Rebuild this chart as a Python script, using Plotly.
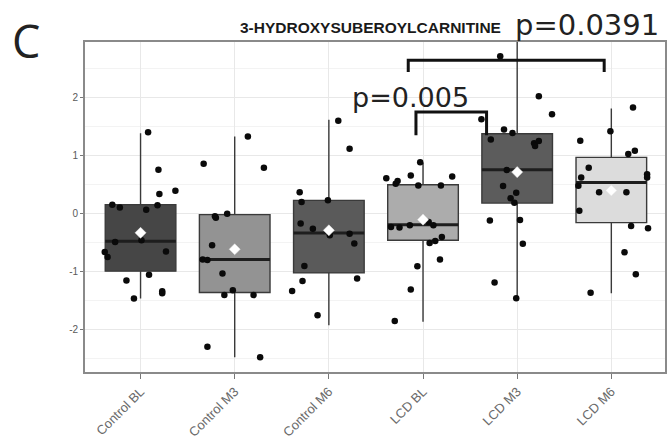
import plotly.graph_objects as go

# Groups shown on the x axis
groups = ["Control BL", "Control M3", "Control M6", "LCD BL", "LCD M3", "LCD M6"]
box_fill = ["#464646", "#939393", "#5a5a5a", "#acacac", "#5c5c5c", "#dcdcdc"]

# Summary statistics per group (scaled abundance)
q1 = [-0.99, -1.357, -1.02, -0.459, 0.182, -0.155]
median = [-0.476, -0.79, -0.333, -0.19, 0.756, 0.538]
q3 = [0.155, -0.017, 0.229, 0.498, 1.375, 0.968]
lower_whisker = [-1.46, -2.47, -1.92, -1.862, -1.455, -1.37]
upper_whisker = [1.385, 1.33, 1.615, 0.876, 3.2, 1.81]
group_mean = [-0.33, -0.613, -0.287, -0.103, 0.715, 0.40]

# Individual subjects: values and horizontal jitter per group
ctrl_bl_vals = [1.40, 0.755, 0.34, 0.395, 0.155, 0.108, 0.069, 0.143, -0.49, -0.46,
                -0.66, -0.745, -0.65, -1.05, -1.15, -1.335, -1.37, -1.46]
ctrl_bl_jit = [0.08, 0.19, 0.20, 0.37, -0.30, -0.22, 0.06, 0.18, -0.27, 0.01,
               -0.38, -0.35, 0.27, 0.09, -0.15, 0.23, 0.23, -0.07]

ctrl_m3_vals = [1.33, 0.86, 0.79, -0.046, -0.07, 0.0, -0.545, -0.79, -0.80, -1.03,
                -1.32, -1.40, -1.40, -2.29, -2.47]
ctrl_m3_jit = [0.14, -0.33, 0.31, -0.21, -0.20, -0.08, -0.24, -0.34, -0.29, -0.13,
               -0.02, -0.11, 0.20, -0.29, 0.27]

ctrl_m6_vals = [1.60, 1.117, 0.37, 0.20, 0.229, -0.17, -0.258, -0.37, -0.344, -0.515,
                -0.90, -1.16, -1.117, -1.33, -1.75]
ctrl_m6_jit = [0.10, 0.22, -0.31, -0.29, -0.01, -0.30, -0.17, 0.01, 0.22, 0.27,
               -0.26, -0.28, 0.30, -0.39, -0.12]

lcd_bl_vals = [0.887, 0.61, 0.56, 0.515, 0.658, 0.64, 0.486, 0.486, -0.23, -0.24,
               -0.20, -0.144, -0.20, -0.505, -0.47, -0.40, -0.79, -0.905, -1.306, -1.85]
lcd_bl_jit = [-0.03, -0.39, -0.27, -0.29, -0.13, 0.31, -0.05, 0.19, -0.34, -0.25,
              -0.14, 0.06, 0.11, 0.07, 0.13, 0.20, 0.18, -0.06, -0.13, -0.30]

lcd_m3_vals = [2.71, 2.02, 1.713, 1.627, 1.45, 1.39, 1.278, 1.21, 1.25, 1.163,
               0.75, 0.475, 0.36, 0.264, 0.188, -0.12, -0.11, -0.52, -1.187, -1.455]
lcd_m3_jit = [-0.18, 0.23, 0.37, -0.38, -0.14, -0.05, -0.28, 0.18, 0.23, 0.19,
              -0.11, -0.15, -0.01, -0.07, -0.03, -0.29, 0.03, 0.06, -0.24, -0.01]

lcd_m6_vals = [1.828, 1.42, 1.254, 1.025, 1.082, 0.79, 0.68, 0.624, 0.624, 0.48,
               0.367, 0.367, 0.05, -0.212, -0.252, -0.665, -1.043, -1.36]
lcd_m6_jit = [0.23, -0.01, -0.33, 0.18, 0.25, -0.24, 0.38, 0.38, -0.32, -0.35,
              -0.13, 0.16, -0.34, 0.21, 0.39, 0.14, 0.26, -0.22]

point_vals = [ctrl_bl_vals, ctrl_m3_vals, ctrl_m6_vals, lcd_bl_vals, lcd_m3_vals, lcd_m6_vals]
point_jit = [ctrl_bl_jit, ctrl_m3_jit, ctrl_m6_jit, lcd_bl_jit, lcd_m3_jit, lcd_m6_jit]

title_text = "3-HYDROXYSUBEROYLCARNITINE"
p_labels = ["p=0.005", "p=0.0391"]

BOX_W = 0.75

fig = go.Figure()

for i, g in enumerate(groups):
    fig.add_trace(go.Box(
        x=[i], q1=[q1[i]], median=[median[i]], q3=[q3[i]],
        lowerfence=[lower_whisker[i]], upperfence=[upper_whisker[i]],
        width=BOX_W, whiskerwidth=0, boxpoints=False,
        fillcolor=box_fill[i], line=dict(color="#3a3a3a", width=1.4),
        showlegend=False, hoverinfo="skip", name=g,
    ))
    # thicker median bar
    fig.add_trace(go.Scatter(
        x=[i - BOX_W / 2, i + BOX_W / 2], y=[median[i], median[i]],
        mode="lines", line=dict(color="#1e1e1e", width=3),
        showlegend=False, hoverinfo="skip",
    ))

for i, g in enumerate(groups):
    fig.add_trace(go.Scatter(
        x=[i + j for j in point_jit[i]], y=point_vals[i], mode="markers",
        marker=dict(color="#0a0a0a", size=6.5),
        showlegend=False, hoverinfo="skip",
    ))

fig.add_trace(go.Scatter(
    x=list(range(len(groups))), y=group_mean, mode="markers",
    marker=dict(symbol="diamond", color="white", size=8.5,
                line=dict(color="#e0e0e0", width=0.5)),
    showlegend=False, hoverinfo="skip",
))

# significance brackets
bracket_style = dict(type="path", xref="x", yref="y",
                     line=dict(color="#111111", width=3), layer="above")
fig.add_shape(path="M 2.925 1.35 L 2.925 1.752 L 3.675 1.752 L 3.675 1.35", **bracket_style)
fig.add_shape(path="M 2.843 2.44 L 2.843 2.64 L 4.924 2.64 L 4.924 2.44", **bracket_style)

fig.add_annotation(text=p_labels[0], xref="paper", yref="paper",
                   x=(350 - 85) / 580, y=(372 - 97) / 330.3,
                   xanchor="left", yanchor="middle", showarrow=False,
                   font=dict(family="DejaVu Sans", size=27, color="#222222"))
fig.add_annotation(text=p_labels[1], xref="paper", yref="paper",
                   x=(513 - 85) / 580, y=(372 - 25) / 330.3,
                   xanchor="left", yanchor="middle", showarrow=False,
                   font=dict(family="DejaVu Sans", size=29, color="#222222"))
fig.add_annotation(text="<b>" + title_text + "</b>", xref="paper", yref="paper",
                   x=(370 - 85) / 580, y=(372 - 27) / 330.3,
                   xanchor="center", yanchor="middle", showarrow=False,
                   font=dict(family="Liberation Sans", size=15.5, color="#1a1a1a"))
fig.add_annotation(text="C", xref="paper", yref="paper",
                   x=(10 - 85) / 580, y=(372 - 40) / 330.3,
                   xanchor="left", yanchor="middle", showarrow=False,
                   font=dict(family="Open Sans", size=45, color="#222222"))

fig.update_layout(
    width=667, height=439,
    margin=dict(l=85, r=2, t=42, b=67),
    paper_bgcolor="white", plot_bgcolor="white",
    font=dict(family="Liberation Sans", color="#555555"),
    xaxis=dict(
        range=[-0.59, 5.57], tickvals=list(range(len(groups))), ticktext=groups,
        tickangle=-45, tickfont=dict(size=13, color="#6a6a6a"), automargin=False,
        showgrid=True, gridcolor="#e8e8e8", gridwidth=1, zeroline=False,
        showline=True, mirror=True, linecolor="#8a8a8a", linewidth=1.8,
        ticks="outside", ticklen=5, tickcolor="#777777",
    ),
    yaxis=dict(
        range=[-2.726, 2.955], tickvals=[-2, -1, 0, 1, 2],
        ticktext=["-2", "-1", "0", "1", "2"], automargin=False,
        tickfont=dict(size=10, color="#5a5a5a"),
        showgrid=True, gridcolor="#e8e8e8", gridwidth=1, zeroline=False,
        showline=True, mirror=True, linecolor="#8a8a8a", linewidth=1.8,
        ticks="outside", ticklen=3, tickcolor="#777777",
        minor=dict(tickvals=[-2.5, -1.5, -0.5, 0.5, 1.5, 2.5], showgrid=True,
                   gridcolor="#f3f3f3", gridwidth=1, ticks=""),
    ),
)

fig.write_html("out.html")
